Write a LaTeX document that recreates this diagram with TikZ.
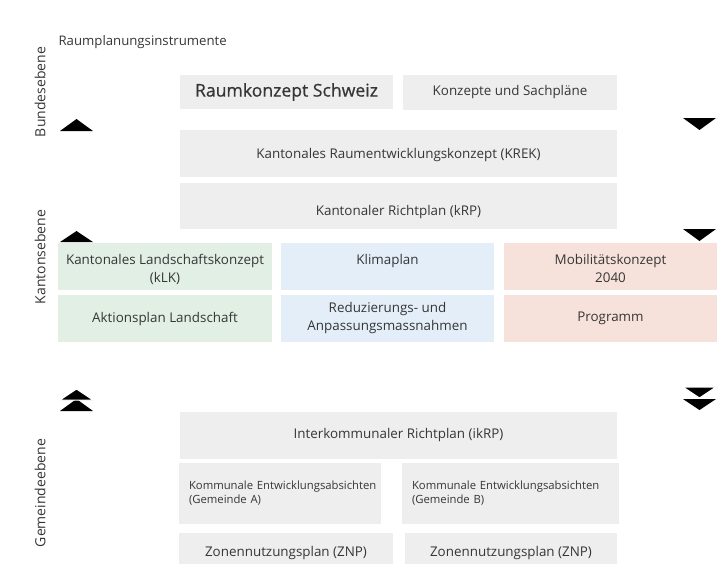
\documentclass[tikz,border=0pt]{standalone}
\usepackage{fontspec}
\setmainfont{Open Sans}
\usepackage{tikz}
\usepackage{xcolor}

\definecolor{boxgrey}{HTML}{EEEEEE}
\definecolor{boxgreen}{HTML}{E2EFE4}
\definecolor{boxblue}{HTML}{E3EEF9}
\definecolor{boxred}{HTML}{F6E2DA}
\definecolor{textgrey}{HTML}{363636}

\begin{document}
\begin{tikzpicture}[x=1pt, y=-1pt,
		box/.style={fill=#1, inner sep=0pt, align=center, text=textgrey,
			font=\fontsize{13.4}{18}\selectfont},
		box/.default=boxgrey,
		smallbox/.style={box, align=left, inner xsep=10pt, text width=182pt,
			font=\fontsize{11.3}{14}\selectfont},
		level/.style={rotate=90, text=textgrey, font=\fontsize{14}{16}\selectfont},
		marker/.style={fill=black}]
			% \draw [help lines] (0,0) grid (723,563);
			\useasboundingbox (0,0) rectangle (723,563);
			\clip (0,0) rectangle (723,563);
			
			% node point
			
			\node[anchor=west, text=textgrey, font=\fontsize{13.2}{16}\selectfont] (titel) at (55,42) {Raumplanungsinstrumente};
			\node[level] (bund) at (40,92) {Bundesebene};
			\node[level] (kanton) at (40,257) {Kantonsebene};
			\node[level] (gemeinde) at (40,493) {Gemeindeebene};
			
			% Bundesebene
			
			\node[box, minimum width=213, minimum height=34, font=\fontsize{17.6}{20}\selectfont\addfontfeature{FakeBold=0.6}] (rks) at (286.5,92) {Raumkonzept Schweiz};
			\node[box, minimum width=214, minimum height=35] (ksp) at (510,92.5) {Konzepte und Sachpläne};
			
			% Kantonsebene
			
			\node[box, minimum width=437, minimum height=47, text height=13pt] (krek) at (398.5,153.5) {Kantonales Raumentwicklungskonzept (KREK)};
			\node[box, minimum width=437, minimum height=46, text height=22pt] (krp) at (398.5,206) {Kantonaler Richtplan (kRP)};
			
			\node[box=boxgreen, minimum width=214, minimum height=47, text height=34pt] (klk) at (165,266.5) {Kantonales Landschaftskonzept\\(kLK)};
			\node[box=boxgreen, minimum width=214, minimum height=47] (apl) at (165,318.5) {Aktionsplan Landschaft};
			\node[box=boxblue, minimum width=213, minimum height=47, text height=32pt] (klima) at (387.5,266.5) {Klimaplan\\\mbox{}};
			\node[box=boxblue, minimum width=213, minimum height=47] (massn) at (387.5,318.5) {Reduzierungs- und\\Anpassungsmassnahmen};
			\node[box=boxred, minimum width=213, minimum height=47, text height=32pt] (mobil) at (610.5,266.5) {Mobilitätskonzept\\2040};
			\node[box=boxred, minimum width=213, minimum height=47] (prog) at (610.5,318.5) {Programm};
			
			% Gemeindeebene
			
			\node[box, minimum width=437, minimum height=47] (ikrp) at (398.5,435.5) {Interkommunaler Richtplan (ikRP)};
			\node[smallbox, minimum height=61] (keaA) at (280,493.5) {\mbox{Kommunale Entwicklungsabsichten}\\(Gemeinde A)};
			\node[smallbox, text width=197pt, minimum height=61] (keaB) at (510.5,493.5) {\mbox{Kommunale Entwicklungsabsichten}\\(Gemeinde B)};
			\node[box, minimum width=214, minimum height=40] (znpA) at (286,553) {Zonennutzungsplan (ZNP)};
			\node[box, minimum width=212, minimum height=40] (znpB) at (511,553) {Zonennutzungsplan (ZNP)};
			
			% draw
			
			\fill[marker] (60,131) -- (93,131) -- (76.5,119) -- cycle;
			\fill[marker] (60,242) -- (93,242) -- (76.5,231) -- cycle;
			\fill[marker] (683,118) -- (716,118) -- (699.5,130) -- cycle;
			\fill[marker] (683,229) -- (716,229) -- (699.5,241) -- cycle;
			
			\fill[marker] (60,411) -- (93,411) -- (76.5,399) -- cycle;
			\filldraw[marker, draw=white, line width=1pt] (60,400) -- (93,400) -- (76.5,389) -- cycle;
			\fill[marker] (683,399) -- (716,399) -- (699.5,410) -- cycle;
			\filldraw[marker, draw=white, line width=1pt] (683,387) -- (716,387) -- (699.5,398) -- cycle;
			
		\end{tikzpicture}
\end{document}
